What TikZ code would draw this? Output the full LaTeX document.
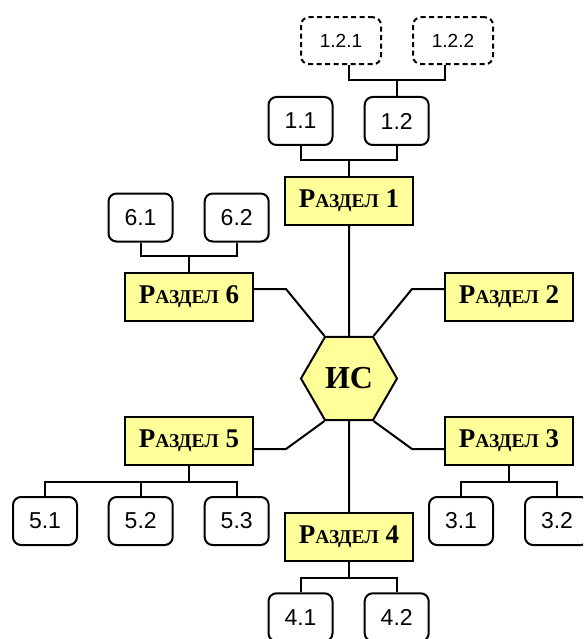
\documentclass[tikz,border=0pt]{standalone}
\usepackage{fontspec}
\setmainfont{Liberation Serif}
\newfontfamily\numfont{Liberation Sans}
\usetikzlibrary{shapes.geometric}
\definecolor{secyellow}{HTML}{FFFF99}
% Section title in bold small caps
\newcommand\secname[1]{\bfseries\fontsize{27}{27}\selectfont Р\fontsize{19.5}{19.5}\selectfont АЗДЕЛ\fontsize{27}{27}\selectfont\ #1}
\tikzset{
  link/.style={line width=2pt, line join=miter},
  secbox/.style={draw, line width=2pt, fill=secyellow, minimum width=128pt, minimum height=48pt, inner sep=0pt, font=\secname},
  itembox/.style={draw, line width=2pt, rounded corners=8pt, fill=white, minimum width=64pt, minimum height=48pt, inner sep=0pt, font=\numfont\fontsize{23}{23}\selectfont},
  subbox/.style={draw, line width=2pt, dash pattern=on 5pt off 3.5pt, rounded corners=8pt, fill=white, minimum width=80pt, minimum height=47pt, inner sep=0pt, font=\numfont\fontsize{19}{19}\selectfont},
  hexbox/.style={draw, line width=2pt, fill=secyellow, regular polygon, regular polygon sides=6, minimum size=96pt, inner sep=0pt, font=\bfseries\fontsize{32}{32}\selectfont}
}
\begin{document}
\begin{tikzpicture}[x=1pt, y=-1pt]
\useasboundingbox (0,0) rectangle (583,639);
\begin{scope}
\clip (0,0) rectangle (583,639);
% centre
\node[hexbox] (hex) at (349,378.5) {ИС};
% sections
\node[secbox] (r1) at (349,201) {1};
\node[secbox] (r2) at (509,297) {2};
\node[secbox] (r3) at (509,441) {3};
\node[secbox] (r4) at (349,537) {4};
\node[secbox] (r5) at (189,441) {5};
\node[secbox] (r6) at (189,297) {6};
% items
\node[itembox] (c11) at (300.5,121) {1.1};
\node[itembox] (c12) at (396.7,121) {1.2};
\node[subbox] (d121) at (341,40.7) {1.2.1};
\node[subbox] (d122) at (453,40.7) {1.2.2};
\node[itembox] (c31) at (461,521) {3.1};
\node[itembox] (c32) at (557,521) {3.2};
\node[itembox] (c41) at (300.5,617.3) {4.1};
\node[itembox] (c42) at (396.7,617.3) {4.2};
\node[itembox] (c51) at (45,521) {5.1};
\node[itembox] (c52) at (140.7,521) {5.2};
\node[itembox] (c53) at (236.7,521) {5.3};
\node[itembox] (c61) at (140.5,217.5) {6.1};
\node[itembox] (c62) at (236.7,217.5) {6.2};
% spokes
\draw[link] (r1.south) -- (hex.north);
\draw[link] (hex.south) -- (r4.north);
\draw[link] ([yshift=8pt]r6.east) -- ++(32,0) -- (hex.120);
\draw[link] ([yshift=8pt]r2.west) -- ++(-32,0) -- (hex.60);
\draw[link] ([yshift=-8pt]r5.east) -- ++(32,0) -- (hex.240);
\draw[link] ([yshift=-8pt]r3.west) -- ++(-32,0) -- (hex.300);
% section 1 tree
\draw[link] (r1.north) -- ++(0,-16) coordinate (b1);
\draw[link] (c11.south) |- (b1) -| (c12.south);
\draw[link] (c12.north) -- ++(0,-16) coordinate (b12);
\draw[link] ([xshift=8pt]d121.south) |- (b12) -| ([xshift=-8pt]d122.south);
% section 3 tree
\draw[link] (r3.south) -- ++(0,16) coordinate (b3);
\draw[link] (c31.north) |- (b3) -| (c32.north);
% section 4 tree
\draw[link] (r4.south) -- ++(0,16) coordinate (b4);
\draw[link] (c41.north) |- (b4) -| (c42.north);
% section 5 tree
\draw[link] (r5.south) -- ++(0,16) coordinate (b5);
\draw[link] (c51.north) |- (b5) -| (c53.north);
\draw[link] (c52.north) -- (c52.north |- b5);
% section 6 tree
\draw[link] (r6.north) -- ++(0,-16) coordinate (b6);
\draw[link] (c61.south) |- (b6) -| (c62.south);
\end{scope}
\end{tikzpicture}
\end{document}
